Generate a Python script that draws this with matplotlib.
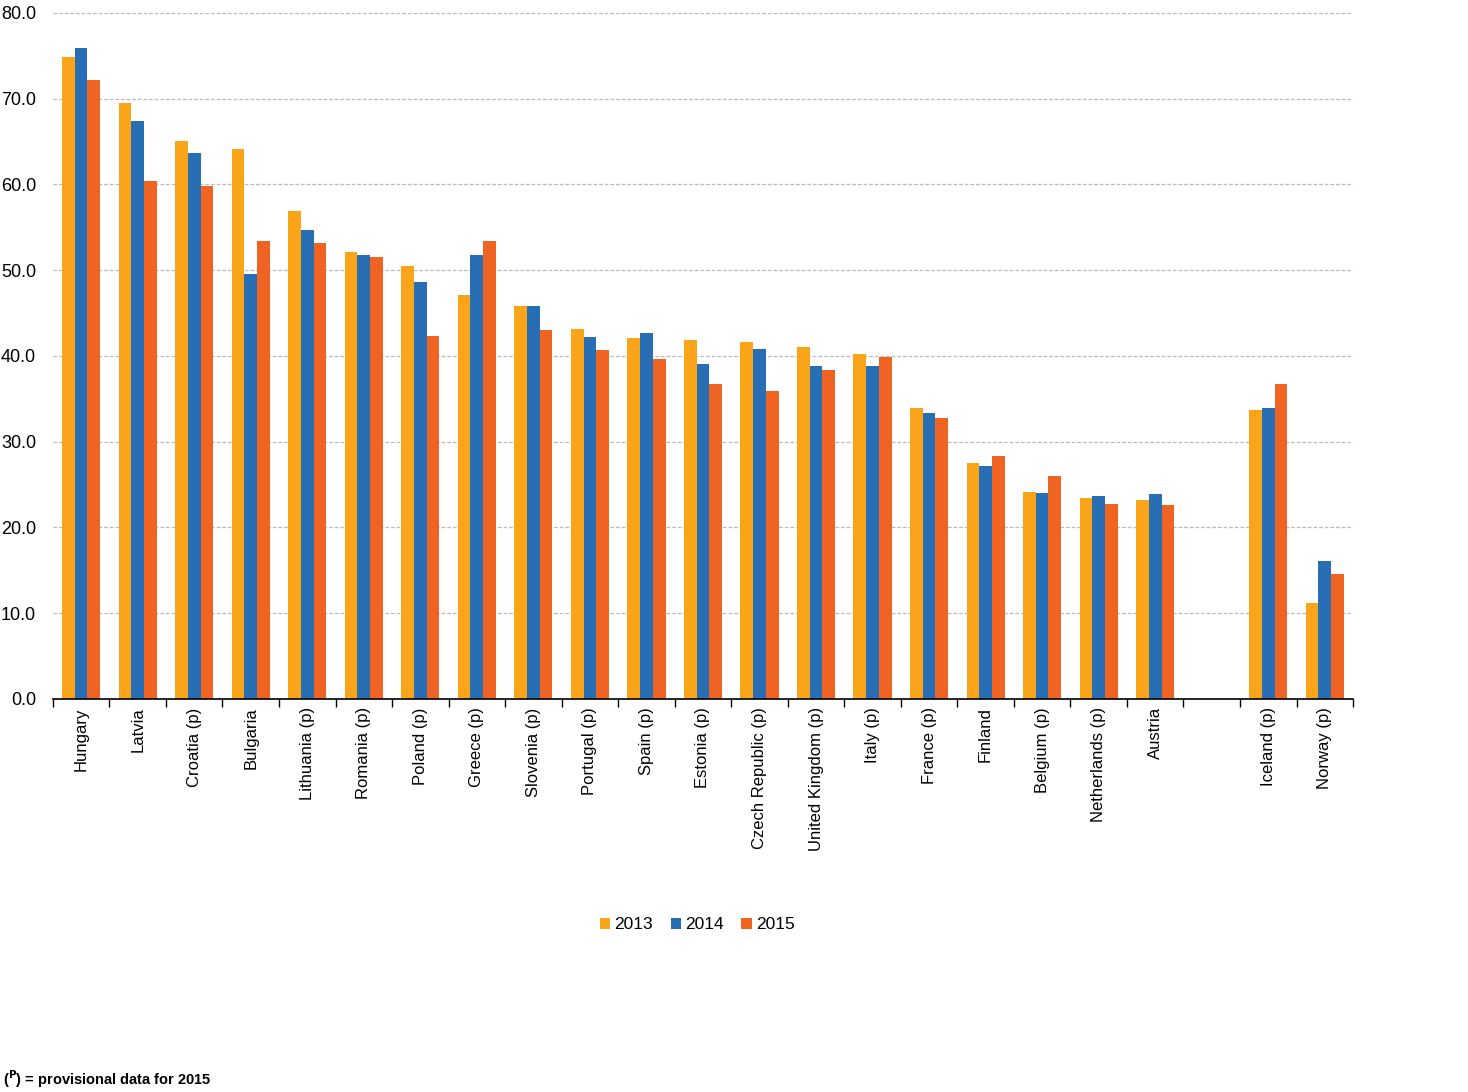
import numpy as np
import matplotlib.pyplot as plt
from matplotlib.patches import Patch

plt.rcParams['font.family'] = ['Liberation Sans', 'DejaVu Sans']

# EU countries, then a gap, then EFTA countries
eu_countries = ['Hungary', 'Latvia', 'Croatia (p)', 'Bulgaria', 'Lithuania (p)', 'Romania (p)',
                'Poland (p)', 'Greece (p)', 'Slovenia (p)', 'Portugal (p)', 'Spain (p)', 'Estonia (p)',
                'Czech Republic (p)', 'United Kingdom (p)', 'Italy (p)', 'France (p)', 'Finland',
                'Belgium (p)', 'Netherlands (p)', 'Austria']
efta_countries = ['Iceland (p)', 'Norway (p)']

years = ['2013', '2014', '2015']
v2013 = [74.9, 69.5, 65.1, 64.1, 56.9, 52.1, 50.5, 47.1, 45.8, 43.1, 42.1, 41.9,
         41.6, 41.0, 40.2, 33.9, 27.5, 24.1, 23.4, 23.2, 33.7, 11.2]
v2014 = [75.9, 67.4, 63.7, 49.6, 54.7, 51.8, 48.6, 51.8, 45.8, 42.2, 42.7, 39.1,
         40.8, 38.8, 38.8, 33.4, 27.2, 24.0, 23.7, 23.9, 33.9, 16.1]
v2015 = [72.2, 60.4, 59.8, 53.4, 53.2, 51.5, 42.3, 53.4, 43.0, 40.7, 39.7, 36.7,
         35.9, 38.4, 39.9, 32.8, 28.3, 26.0, 22.7, 22.6, 36.7, 14.6]
colors = ['#FAA519', '#286EB4', '#F06423']

labels = eu_countries + efta_countries
pos = np.concatenate([np.arange(len(eu_countries)),
                      np.arange(len(efta_countries)) + len(eu_countries) + 1])
n_slots = len(eu_countries) + 1 + len(efta_countries)

fig = plt.figure(figsize=(14.68, 10.92), dpi=100)
ax = fig.add_axes([0.036, 0.3599, 0.8857, 0.6282])

w = 0.225
for i, (vals, c) in enumerate(zip([v2013, v2014, v2015], colors)):
    ax.bar(pos + (i - 1) * w, vals, width=w, color=c, zorder=3)

ax.set_xlim(-0.5, n_slots - 0.5)
ax.set_ylim(0, 80)
ax.set_yticks(np.arange(0, 81, 10))
ax.set_yticklabels([f'{t:.1f}' for t in np.arange(0, 81, 10)], fontsize=13)
ax.tick_params(axis='y', length=0, pad=12)
ax.yaxis.grid(True, linestyle=(0, (3, 1.5)), color='#bbbbbb', linewidth=0.9, zorder=0)

ax.set_xticks(pos)
ax.set_xticklabels(labels, rotation=90, fontsize=12, va='top')
ax.set_xticks(np.arange(n_slots + 1) - 0.5, minor=True)
ax.tick_params(axis='x', which='major', length=0, pad=6)
ax.tick_params(axis='x', which='minor', length=6, width=1, color='black')

for s in ['left', 'right', 'top']:
    ax.spines[s].set_visible(False)
ax.spines['bottom'].set_color('black')
ax.spines['bottom'].set_linewidth(1.2)
ax.spines['bottom'].set_zorder(4)

handles = [Patch(facecolor=c, label=y) for c, y in zip(colors, years)]
fig.legend(handles=handles, loc='center', bbox_to_anchor=(0.475, 0.153), ncol=3,
           frameon=False, fontsize=12.5, handlelength=0.6, handleheight=0.6,
           handletextpad=0.25, columnspacing=1.0)

fig.text(0.002, 0.002, r'($^{\mathbf{P}}$) = provisional data for 2015',
         fontsize=10.5, fontweight='bold', ha='left', va='bottom')

fig.savefig('out.png', dpi=100)
